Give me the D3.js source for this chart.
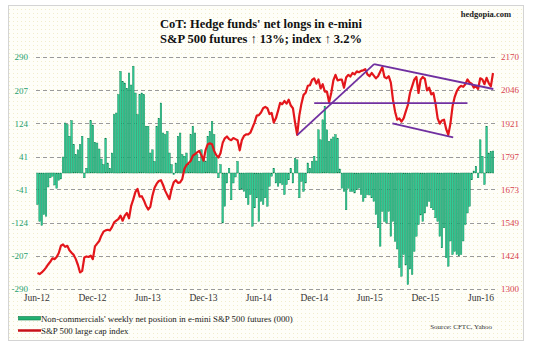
<!DOCTYPE html>
<html><head><meta charset="utf-8">
<script src="https://cdn.jsdelivr.net/npm/d3@7"></script>
<style>body{margin:0;background:#fff} svg{display:block}</style>
</head><body>
<svg id="c" width="534" height="346"></svg>
<script>
// Non-commercials' weekly net position in e-mini S&P 500 futures (000), weekly from 2012-06-05
const netLongs = [
 -79,-121,-131,-104,-108,-35,-12,-8,-30,-38,-18,-15,
 40,125,121,92,131,71,46,58,71,92,-12,12,87,131,120,77,75,60,35,21,87,25,12,50,146,150,196,254,229,225,212,
 250,220,267,200,146,196,200,196,117,117,50,58,29,117,137,175,100,96,104,50,21,-4,25,92,100,46,42,50,21,96,117,100,46,29,58,35,30,92,104,129,96,40,-12,
 21,-125,-83,-25,12,-67,-25,-10,29,-42,-40,-46,-62,-79,-54,-133,-87,-62,-121,-71,-79,-62,-83,-33,-8,12,-25,-33,-25,-29,-54,-29,-17,12,-25,37,33,-62,-21,-46,-25,
 25,12,29,42,30,108,83,133,167,108,79,85,90,96,87,10,-38,-46,-92,-38,-46,-46,-50,-42,-38,-54,-71,-62,-54,-55,-62,-71,-104,-137,-183,-96,-121,-125,-96,-158,-121,-171,-190,-237,-258,
 -204,-230,-279,-240,-254,-196,-158,-129,-105,-121,-100,-83,-71,-87,-92,-112,-121,-158,-187,-137,-212,-233,-170,-204,-196,-204,-207,-204,-170,-129,-100,-83,-17,5,17,-12,83,42,-29,117,50,54,55
];
// S&P 500 large cap index, same weeks
const spIndex = [
 1360,1356,1362,1370,1380,1392,1402,1415,1412,1420,1435,1462,1467,1458,1462,1445,1436,1428,1412,1390,1362,1368,1418,1422,1420,1425,1412,1460,1470,1480,1500,1515,1520,1522,1520,1532,1550,1556,1562,1575,1556,1575,1585,
 1565,1612,1636,1664,1675,1646,1648,1632,1612,1598,1608,1650,1680,1695,1705,1708,1690,1668,1652,1637,1675,1700,1708,1698,1700,1712,1750,1765,1772,1781,1800,1806,1812,1818,1802,1781,1822,1843,1846,1843,1818,1802,1793,
 1810,1848,1865,1872,1862,1858,1866,1862,1858,1820,1858,1874,1880,1880,1886,1905,1925,1950,1952,1962,1978,1983,1978,1956,1960,1924,1940,1968,1998,1993,2005,1995,2010,1988,1978,1924,1878,1950,1995,2028,2036,
 2062,2064,2084,2090,2070,2086,2052,2068,2040,2040,2000,2035,2082,2103,2082,2085,2085,2055,2093,2103,2097,2110,2105,2116,2113,2118,2120,2124,2105,2098,2110,2100,2090,2098,2115,2132,2095,2090,2098,2074,2010,1965,1935,1940,1928,
 1940,1965,1990,2035,2060,2085,2095,2035,2085,2095,2088,2045,2055,2030,2035,1995,1940,1920,1932,1935,1900,1878,1920,1985,2020,2042,2055,2062,2058,2068,2086,2074,2070,2055,2060,2050,2090,2086,2068,2092,2072,2060,2110
];
const firstWeek = "2012-06-05";
const lastWeek = "2016-07-12";
const leftTicks = [-290,-207,-124,-41,41,124,207,290];
const rightTicks = [1300,1424,1549,1673,1797,1921,2046,2170];
const xTickDates = ["2012-06-01","2012-12-01","2013-06-01","2013-12-01","2014-06-01","2014-12-01","2015-06-01","2015-12-01","2016-06-01"];
const xTickLabels = ["Jun-12","Dec-12","Jun-13","Dec-13","Jun-14","Dec-14","Jun-15","Dec-15","Jun-16"];
// trend lines drawn on the index (date, value)
const trendFrom = [["2014-10-07",1877],["2014-12-02",1997],["2015-06-17",2143],["2015-08-16",1921]];
const trendTo   = [["2015-06-17",2143],["2016-04-19",1997],["2016-07-13",2050],["2016-03-03",1869]];
const titleLines = ["CoT: Hedge funds' net longs in e-mini","S&P 500 futures \u2191 13%; index \u2191 3.2%"];
const legendLabels = ["Non-commercials' weekly net position in e-mini S&P 500 futures (000)","S&P 500 large cap index"];

const weeks = d3.utcTuesday.range(new Date(firstWeek), d3.utcDay.offset(new Date(lastWeek), 1));
const svg = d3.select("#c");
const serif = "'Liberation Serif','Times New Roman',serif";

const defs = svg.append("defs");
const pat = defs.append("pattern").attr("id","dots").attr("width",4).attr("height",4).attr("patternUnits","userSpaceOnUse");
pat.append("rect").attr("width",4).attr("height",4).attr("fill","#fefef8");
pat.append("rect").attr("x",1).attr("y",1).attr("width",1).attr("height",1).attr("fill","#f1edcc");

svg.append("rect").attr("x",8.5).attr("y",5.5).attr("width",515).attr("height",335)
  .attr("fill","url(#dots)").attr("stroke","#d4d4d4");

const x = d3.scaleUtc().domain([new Date(firstWeek), new Date(lastWeek)]).range([37.5, 493]);
const yL = d3.scaleLinear().domain([-290,290]).range([289,57]);
const yR = d3.scaleLinear().domain([1300,2170]).range([289,57]);

// gridlines
svg.append("g").selectAll("line").data(leftTicks).join("line")
  .attr("x1",36).attr("x2",496)
  .attr("y1",d=>Math.round(yL(d))+0.5).attr("y2",d=>Math.round(yL(d))+0.5)
  .attr("stroke","#9a9a9a").attr("stroke-dasharray","4,3").attr("stroke-width",1);

// left axis labels
const gl = svg.append("g").attr("transform","translate(28,0)")
  .call(d3.axisLeft(yL).tickValues(leftTicks).tickSize(0).tickPadding(0).tickFormat(d=>String(d)));
gl.select(".domain").remove();
gl.selectAll("text").attr("fill","#1f9e6e").attr("font-family",serif).attr("font-size",9);

const gr = svg.append("g").attr("transform","translate(501,0)")
  .call(d3.axisRight(yR).tickValues(rightTicks).tickSize(0).tickPadding(0).tickFormat(d=>String(d)));
gr.select(".domain").remove();
gr.selectAll("text").attr("fill","#d8434f").attr("font-family",serif).attr("font-size",9);

const gx = svg.append("g").attr("transform","translate(0,294)")
  .call(d3.axisBottom(x).tickValues(xTickDates.map(d=>new Date(d))).tickSize(0).tickPadding(0)
    .tickFormat((d,i)=>xTickLabels[i]));
gx.select(".domain").remove();
gx.selectAll("text").attr("fill","#333").attr("font-family",serif).attr("font-size",9.5);

// bars
svg.append("g").selectAll("rect").data(netLongs).join("rect")
  .attr("x",(d,i)=>x(weeks[i])-0.8).attr("width",1.6)
  .attr("y",d=>Math.min(yL(d),yL(0))).attr("height",d=>Math.abs(yL(d)-yL(0)))
  .attr("fill","#30cc96").attr("stroke","#0c7c4c").attr("stroke-width",0.4);

// index line
svg.append("path").datum(spIndex)
  .attr("d",d3.line().x((d,i)=>x(weeks[i])).y(d=>yR(d)))
  .attr("fill","none").attr("stroke","#e3161b").attr("stroke-width",2.2).attr("stroke-linejoin","round");

// trend lines
svg.append("g").selectAll("line").data(trendFrom).join("line")
  .attr("x1",d=>x(new Date(d[0]))).attr("y1",d=>yR(d[1]))
  .attr("x2",(d,i)=>x(new Date(trendTo[i][0]))).attr("y2",(d,i)=>yR(trendTo[i][1]))
  .attr("stroke","#7030a0").attr("stroke-width",1.8);

// title
svg.append("g").selectAll("text").data(titleLines).join("text")
  .attr("x",261).attr("y",(d,i)=>28+i*14.5).attr("text-anchor","middle")
  .attr("font-family",serif).attr("font-weight","bold").attr("font-size",12.5).attr("fill","#111").text(d=>d);
svg.append("text").attr("x",511).attr("y",17).attr("text-anchor","end")
  .attr("font-family",serif).attr("font-weight","bold").attr("font-size",8.5).attr("fill","#222").text("hedgopia.com");

// legend
svg.append("rect").attr("x",18.5).attr("y",316.5).attr("width",22).attr("height",3.5)
  .attr("fill","#21b070").attr("stroke","#0c7c4c").attr("stroke-width",0.6);
svg.append("line").attr("x1",18).attr("x2",41).attr("y1",330.5).attr("y2",330.5)
  .attr("stroke","#c8101a").attr("stroke-width",2.5);
svg.append("g").selectAll("text").data(legendLabels).join("text")
  .attr("x",41).attr("y",(d,i)=>321.5+i*12.5)
  .attr("font-family",serif).attr("font-size",8.8).attr("fill","#222").text(d=>d);
svg.append("text").attr("x",492).attr("y",328.5).attr("text-anchor","end")
  .attr("font-family",serif).attr("font-size",7).attr("fill","#333").text("Source: CFTC, Yahoo");
</script>
</body></html>
